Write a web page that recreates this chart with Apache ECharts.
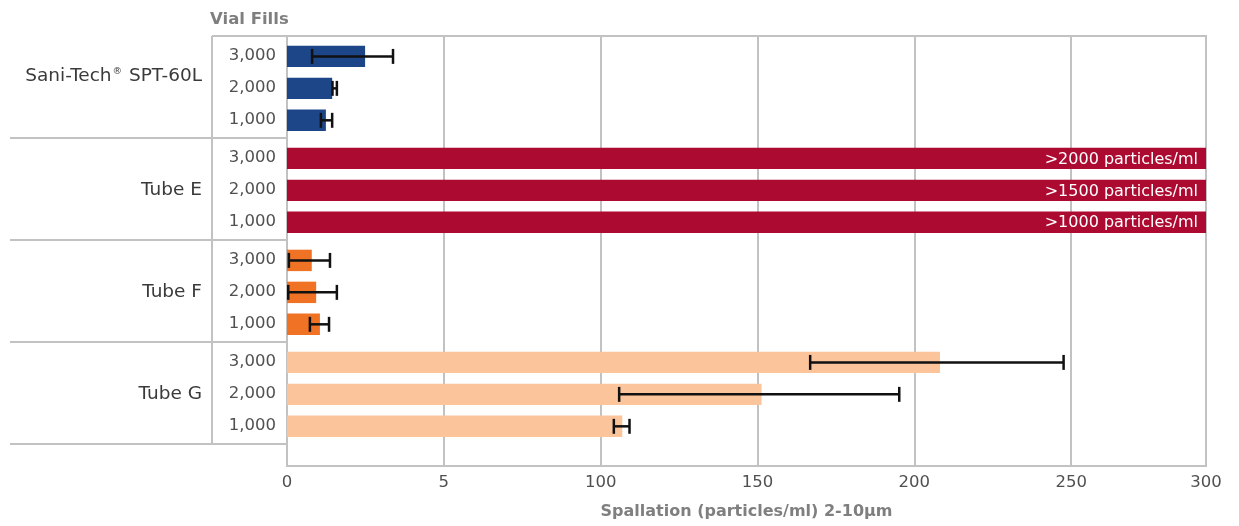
<!DOCTYPE html>
<html>
<head>
<meta charset="utf-8">
<script src="https://cdn.jsdelivr.net/npm/echarts@6/dist/echarts.min.js"></script>
<style>
html,body{margin:0;padding:0;background:#fff;}
#chart{width:1239px;height:526px;}
</style>
</head>
<body>
<div id="chart"></div>
<script>
// ---- data ----
const groups = ['Sani-Tech', 'Tube E', 'Tube F', 'Tube G'];
const fills = ['3,000', '2,000', '1,000'];
const xTickLabels = ['0', '5', '100', '150', '200', '250', '300'];

const saniTech     = [24.9, 14.4, 12.4];
const saniTechLow  = [8.0, 14.5, 10.8];
const saniTechHigh = [33.8, 15.9, 14.4];

const tubeE       = [2000, 1500, 1000];
const tubeELabels = ['>2000 particles/ml', '>1500 particles/ml', '>1000 particles/ml'];

const tubeF     = [7.9, 9.3, 10.5];
const tubeFLow  = [0.6, 0.4, 7.3];
const tubeFHigh = [13.7, 15.9, 13.4];

const tubeG     = [208.2, 151.3, 106.9];
const tubeGLow  = [166.8, 105.9, 104.2];
const tubeGHigh = [247.6, 195.2, 109.2];

const colors = ['#1d4689', '#ad0a31', '#f07325', '#fbc49b'];

// ---- layout helpers ----
const FONT = '"DejaVu Sans", sans-serif';
const X_MAX = 293;
const Y_MAX = 12.647;
const BAR_H = 0.63;
const CAP_H = 0.44;
function rowPos(g, r) { return g * 3 + 0.6 + r * 0.94; }

function buildData(vals, lows, highs, g) {
  return vals.map((v, r) => [v, rowPos(g, r), lows ? lows[r] : NaN, highs ? highs[r] : NaN]);
}

function makeRender(color, labels) {
  return function (params, api) {
    const v = api.value(0), y = api.value(1), lo = api.value(2), hi = api.value(3);
    const p0 = api.coord([0, y]);
    const p1 = api.coord([v, y]);
    const h = api.size([0, BAR_H])[1];
    const cs = params.coordSys;
    const rect = echarts.graphic.clipRectByRect(
      { x: p0[0], y: p0[1] - h / 2, width: p1[0] - p0[0], height: h },
      { x: cs.x, y: cs.y, width: cs.width, height: cs.height }
    );
    const children = [];
    if (rect) children.push({ type: 'rect', shape: rect, style: { fill: color } });
    if (!isNaN(lo) && !isNaN(hi)) {
      const a = api.coord([lo, y]), b = api.coord([hi, y]);
      const ch = api.size([0, CAP_H])[1];
      const st = { stroke: '#111', lineWidth: 2.5 };
      children.push({ type: 'line', shape: { x1: a[0], y1: a[1], x2: b[0], y2: b[1] }, style: st });
      children.push({ type: 'line', shape: { x1: a[0], y1: a[1] - ch / 2, x2: a[0], y2: a[1] + ch / 2 }, style: st });
      children.push({ type: 'line', shape: { x1: b[0], y1: b[1] - ch / 2, x2: b[0], y2: b[1] + ch / 2 }, style: st });
    }
    if (labels && rect) {
      children.push({
        type: 'text',
        style: {
          text: labels[params.dataIndex],
          x: rect.x + rect.width - 8, y: rect.y + rect.height / 2 + 1,
          align: 'right', verticalAlign: 'middle',
          fill: '#ffffff', font: '16px ' + FONT
        }
      });
    }
    return { type: 'group', children: children };
  };
}

const LINE = '#c2c2c2';

function renderTable(params, api) {
  const g = api.value(1);
  const cs = params.coordSys;
  const left = cs.x;
  const top = api.coord([0, g * 3])[1];
  const bottom = api.coord([0, g * 3 + 3])[1];
  const children = [];
  const ls = { stroke: LINE, lineWidth: 2 };
  children.push({ type: 'line', shape: { x1: 10, y1: bottom, x2: left, y2: bottom }, style: ls });
  children.push({ type: 'line', shape: { x1: left - 75, y1: top, x2: left - 75, y2: bottom }, style: ls });
  if (g === 0) {
    children.push({ type: 'line', shape: { x1: left - 75, y1: top, x2: left, y2: top }, style: ls });
  }
  for (let r = 0; r < 3; r++) {
    const yy = api.coord([0, rowPos(g, r)])[1];
    children.push({
      type: 'text',
      style: {
        text: fills[r], x: left - 11, y: yy - 1, align: 'right', verticalAlign: 'middle',
        fill: '#505050', font: '16.5px ' + FONT
      }
    });
  }
  const mid = api.coord([0, rowPos(g, 1)])[1];
  if (g === 0) {
    children.push({
      type: 'text',
      style: {
        text: '{n|Sani-Tech}{s|®}{n| SPT-60L}', x: left - 85, y: mid - 12, align: 'right', verticalAlign: 'middle',
        rich: {
          n: { fill: '#3a3a3a', font: '18.5px ' + FONT },
          s: { fill: '#3a3a3a', font: '9.5px ' + FONT, verticalAlign: 'top', padding: [0, 1, 7, 1] }
        }
      }
    });
  } else {
    children.push({
      type: 'text',
      style: {
        text: groups[g], x: left - 85, y: mid, align: 'right', verticalAlign: 'middle',
        fill: '#3a3a3a', font: '18.5px ' + FONT
      }
    });
  }
  return { type: 'group', children: children };
}

const chart = echarts.init(document.getElementById('chart'), null, { renderer: 'canvas' });
chart.setOption({
  animation: false,
  backgroundColor: '#ffffff',
  title: {
    text: 'Vial Fills', left: 205, top: 6,
    textStyle: { color: '#7f7f7f', fontSize: 16.5, fontWeight: 'bold', fontFamily: FONT }
  },
  grid: {
    left: 287, right: 33, top: 36, bottom: 60, show: true,
    borderColor: LINE, borderWidth: 2, backgroundColor: 'transparent',
    outerBoundsMode: 'none', containLabel: false
  },
  xAxis: {
    type: 'value', min: 0, max: X_MAX, interval: 50,
    name: 'Spallation (particles/ml) 2-10µm', nameLocation: 'middle', nameGap: 38,
    nameTextStyle: { color: '#7f7f7f', fontSize: 16, fontWeight: 'bold', fontFamily: FONT },
    axisLine: { show: false }, axisTick: { show: false },
    axisLabel: {
      color: '#505050', fontSize: 16.5, fontFamily: FONT, margin: 8,
      showMinLabel: true, showMaxLabel: true,
      formatter: function (v) { return xTickLabels[Math.min(Math.round(v / 50), xTickLabels.length - 1)]; }
    },
    splitLine: { show: true, lineStyle: { color: LINE, width: 2 } }
  },
  yAxis: {
    type: 'value', min: 0, max: Y_MAX, inverse: true, show: false
  },
  series: [
    { type: 'custom', renderItem: renderTable, data: groups.map((n, g) => [0, g]), clip: false, z: 1 },
    { type: 'custom', renderItem: makeRender(colors[0]), data: buildData(saniTech, saniTechLow, saniTechHigh, 0), z: 3 },
    { type: 'custom', renderItem: makeRender(colors[1], tubeELabels), data: buildData(tubeE, null, null, 1), z: 3 },
    { type: 'custom', renderItem: makeRender(colors[2]), data: buildData(tubeF, tubeFLow, tubeFHigh, 2), z: 3 },
    { type: 'custom', renderItem: makeRender(colors[3]), data: buildData(tubeG, tubeGLow, tubeGHigh, 3), z: 3 }
  ]
});
</script>
</body>
</html>
